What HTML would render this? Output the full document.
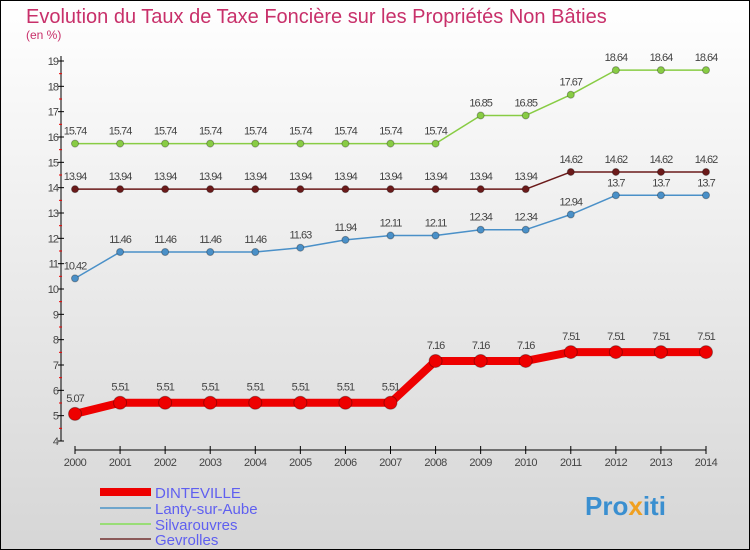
<!DOCTYPE html>
<html><head><meta charset="utf-8"><style>
body{margin:0;}
#c{width:750px;height:550px;position:relative;overflow:hidden;}
svg text{font-family:"Liberation Sans",sans-serif;}
</style></head><body>
<div id="c">
<svg id="s" width="750" height="550" xmlns="http://www.w3.org/2000/svg">
<defs><linearGradient id="bg" x1="0" y1="0" x2="0" y2="1"><stop offset="0" stop-color="#ffffff"/><stop offset="1" stop-color="#d6d6d6"/></linearGradient></defs>
<rect x="0.5" y="0.5" width="749" height="549" fill="url(#bg)" stroke="#000"/>
<text x="26" y="23" font-size="20" fill="#c8306a">Evolution du Taux de Taxe Foncière sur les Propriétés Non Bâties</text>
<text x="26" y="39" font-size="12" fill="#c8306a">(en %)</text>
<g id="axes"></g><g id="series"></g>
<g>
<line x1="100" y1="492" x2="151" y2="492" stroke="#ee0000" stroke-width="8"/>
<text x="155" y="498" font-size="15" fill="#5f5ff0">DINTEVILLE</text>
<line x1="100" y1="508" x2="151" y2="508" stroke="#6fa6cc" stroke-width="2"/>
<text x="155" y="514" font-size="15" fill="#5f5ff0">Lanty-sur-Aube</text>
<line x1="100" y1="524" x2="151" y2="524" stroke="#99dd77" stroke-width="2"/>
<text x="155" y="530" font-size="15" fill="#5f5ff0">Silvarouvres</text>
<line x1="100" y1="539" x2="151" y2="539" stroke="#8b5a5a" stroke-width="2"/>
<text x="155" y="545" font-size="15" fill="#5f5ff0">Gevrolles</text>
</g>
<text x="585" y="515" font-size="26" font-weight="bold" fill="#3a8fd0">Pro<tspan fill="#f0a020">x</tspan>iti</text>
</svg></div>
<script>
const years=[2000,2001,2002,2003,2004,2005,2006,2007,2008,2009,2010,2011,2012,2013,2014];
const dinteville=[5.07,5.51,5.51,5.51,5.51,5.51,5.51,5.51,7.16,7.16,7.16,7.51,7.51,7.51,7.51];
const lanty=[10.42,11.46,11.46,11.46,11.46,11.63,11.94,12.11,12.11,12.34,12.34,12.94,13.7,13.7,13.7];
const silvarouvres=[15.74,15.74,15.74,15.74,15.74,15.74,15.74,15.74,15.74,16.85,16.85,17.67,18.64,18.64,18.64];
const gevrolles=[13.94,13.94,13.94,13.94,13.94,13.94,13.94,13.94,13.94,13.94,13.94,14.62,14.62,14.62,14.62];
const yTicks=[4,5,6,7,8,9,10,11,12,13,14,15,16,17,18,19];
const NS="http://www.w3.org/2000/svg";
const x=i=>75+i*(631/(years.length-1));
const y=v=>441-(v-4)*(380/15);
function mk(t,a,p){const e=document.createElementNS(NS,t);for(const k in a)e.setAttribute(k,a[k]);p.appendChild(e);return e;}
const ax=document.getElementById('axes');
mk('line',{x1:61,y1:56,x2:61,y2:441,stroke:'#000'},ax);
mk('line',{x1:75,y1:450,x2:706,y2:450,stroke:'#000'},ax);
yTicks.forEach(v=>{
 mk('line',{x1:58,y1:y(v),x2:64,y2:y(v),stroke:'#000'},ax);
 if(v<19)mk('line',{x1:59,y1:y(v+0.5),x2:62,y2:y(v+0.5),stroke:'#e00'},ax);
 const t=mk('text',{x:58,y:y(v)+4,'font-size':11,fill:'#444','text-anchor':'end','letter-spacing':'-1'},ax);t.textContent=v;
 
 
});
years.forEach((yr,i)=>{
 mk('line',{x1:x(i),y1:446,x2:x(i),y2:454,stroke:'#000'},ax);
 const t=mk('text',{x:x(i),y:466,'font-size':11,fill:'#444','text-anchor':'middle','letter-spacing':'-0.5'},ax);t.textContent=yr;
 
 
});
const sg=document.getElementById('series');
function draw(vals,name,color,w,r,labelOff){
 const g=mk('g',{},sg);
 
 
 const pl=mk('polyline',{points:vals.map((v,i)=>x(i)+','+y(v)).join(' '),fill:'none',stroke:color,'stroke-width':w,'stroke-linejoin':'round'},g);
 
 
 vals.forEach((v,i)=>{
  const c=mk('circle',{cx:x(i),cy:y(v),r:r,fill:color,stroke:'rgba(0,0,0,0.3)','stroke-width':1},g);
  
  
  const t=mk('text',{x:x(i),y:y(v)-labelOff,'font-size':11,fill:'#444','text-anchor':'middle','letter-spacing':'-1'},g);
  t.textContent=v;
  
  
 });
}
draw(lanty,'lanty','#4a90c8',1.5,3.5,9);
draw(gevrolles,'gevrolles','#6b1a1a',1.5,3.5,9);
draw(silvarouvres,'silvarouvres','#88cc44',1.5,3.5,9);
draw(dinteville,'dinteville','#ee0000',8,6.5,12);
</script>
</body></html>
